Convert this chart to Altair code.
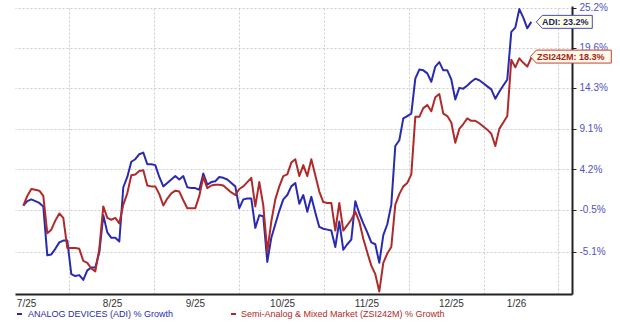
import altair as alt
import pandas as pd

series = ["ANALOG DEVICES (ADI) % Growth", "Semi-Analog & Mixed Market (ZSI242M) % Growth"]
short = ["ADI", "ZSI242M"]

adi = [0.0, 0.5, 0.7, 0.5, 0.3, -0.1, -5.5, -5.4, -4.8, -4.1,
       -3.9, -3.9, -7.5, -7.7, -7.6, -8.1, -7.1, -6.8, -6.8, -5.2,
       -1.1, -3.0, -3.6, -3.6, -4.0, 2.1, 3.3, 5.1, 5.4, 6.0,
       6.2, 4.8, 4.8, 4.7, 3.3, 2.2, 2.6, 3.0, 3.4, 3.0,
       3.4, 2.1, 2.0, 2.0, 1.8, 3.7, 2.4, 2.7, 2.8, 3.3,
       3.2, 3.0, 2.6, 2.2, -0.3, 0.7, 0.8, 0.8, -2.5, -1.1,
       -1.2, -6.2, -3.6, -2.1, -0.6, 0.7, 1.2, 2.2, 2.6, 0.2,
       1.2, -0.7, 1.0, -0.8, -2.4, -2.6, -2.7, -2.8, -4.6, -1.8,
       -4.9, -4.3, -3.8, 0.5, -0.9, -2.0, -3.0, -4.1, -4.3, -6.3,
       -3.3, -2.1, 0.1, 7.0, 7.7, 10.4, 10.7, 11.0, 15.5, 16.7,
       16.6, 16.2, 15.1, 17.1, 17.7, 16.6, 16.6, 15.4, 12.8, 14.3,
       14.2, 14.6, 15.1, 15.5, 15.3, 14.9, 14.5, 14.1, 12.9, 13.8,
       14.6, 15.4, 21.8, 22.4, 25.0, 23.8, 22.3, 23.2]

zsi = [0.0, 1.1, 1.9, 1.8, 1.7, 1.1, -3.1, -2.7, -1.7, -0.9,
       -1.4, -4.7, -4.7, -4.7, -4.8, -6.1, -6.3, -6.9, -7.2, -4.8,
       -0.1, -1.4, -1.6, -1.4, -2.0, 0.1, 1.4, 3.5, 3.6, 4.0,
       4.1, 2.3, 2.2, 2.2, 1.3, 0.0, 0.8, 1.4, 1.7, 1.6,
       0.6, -0.3, -0.3, -0.3, 1.1, 3.3, 2.0, 2.3, 2.4, 2.4,
       2.3, 1.9, 1.5, 1.2, 1.9, 2.2, 2.7, 3.2, -0.1, 2.7,
       0.0, -5.1, -1.8, 0.7, 2.2, 3.4, 3.6, 5.0, 5.4, 3.4,
       4.7, 3.4, 5.4, 3.5, 1.6, 0.4, 0.3, 0.3, -2.8, 0.3,
       -2.8, -2.2, -1.6, -0.7, -1.8, -3.7, -5.2, -6.6, -7.5, -9.3,
       -6.3, -5.3, -4.6, 0.1, 1.3, 2.2, 2.6, 3.6, 10.6, 10.6,
       11.7, 12.1, 11.3, 13.1, 13.5, 11.0, 10.7, 9.9, 7.4, 9.1,
       9.7, 10.4, 10.1, 10.1, 9.8, 9.4, 9.0, 8.5, 7.0, 9.1,
       9.9, 10.7, 18.0, 17.0, 18.2, 17.6, 17.1, 18.3]

month_labels = ["7/25", "8/25", "9/25", "10/25", "11/25", "12/25", "1/26"]
month_label_pos = [0.7, 22.2, 42.9, 64.7, 85.8, 106.9, 123.2]
month_bounds = [11.4, 32.7, 53.9, 75.2, 96.4, 115.2, 133.7]
y_ticks = [25.2, 19.6, 14.3, 9.1, 4.2, -0.5, -5.1]

line_colors = ["#2a2ab0", "#b02a2a"]
FONT = "Liberation Sans"

rows = []
for name, vals in zip(series, [adi, zsi]):
    for i, v in enumerate(vals):
        rows.append({"series": name, "day": i, "pct": v})
df = pd.DataFrame(rows)

xscale = alt.Scale(domain=[-2.075, 137.175], nice=False, zero=False)
yscale = alt.Scale(type="log", domain=[0.9044, 1.2544], nice=False, zero=False)

lab_arr = "[" + ",".join("'%s'" % s for s in month_labels) + "]"
pos_arr = "[" + ",".join(str(p) for p in month_label_pos) + "]"
x_label_expr = f"{lab_arr}[indexof({pos_arr}, datum.value)]"
y_label_expr = "(datum.value < 1 ? '-' : '') + format(abs(datum.value - 1) * 100, '.1f') + '%'"

lines = alt.Chart(df).transform_calculate(g="1 + datum.pct / 100").mark_line(
    strokeWidth=2, strokeJoin="round"
).encode(
    x=alt.X("day:Q", scale=xscale, axis=alt.Axis(
        orient="bottom", values=month_label_pos, labelExpr=x_label_expr,
        grid=False, ticks=False, domain=True, domainColor="#222222", domainWidth=2,
        labelColor="#333333", labelFontSize=10, labelFont=FONT, labelPadding=4,
        labelFlush=False, labelOverlap=False, title=None)),
    y=alt.Y("g:Q", scale=yscale, axis=alt.Axis(
        orient="right", values=[1 + t / 100 for t in y_ticks], labelExpr=y_label_expr,
        grid=True, gridColor="#cccccc", gridDash=[2, 2], gridWidth=1,
        ticks=True, tickSize=4, tickColor="#222222", domain=True, domainColor="#222222",
        domainWidth=2, labelColor="#5050c4", labelFontSize=10, labelFont=FONT,
        labelPadding=3, labelOverlap=False, title=None)),
    color=alt.Color("series:N", scale=alt.Scale(domain=series, range=line_colors), legend=None),
)

last = len(adi) - 1
tag_adi = pd.DataFrame({"day": [last], "pct": [adi[-1]], "label": [f"{short[0]}: {adi[-1]:.1f}%"]})
tag_zsi = pd.DataFrame({"day": [last], "pct": [zsi[-1]], "label": [f"{short[1]}: {zsi[-1]:.1f}%"]})

path_adi = "M-1,0L-0.786,-0.232L1,-0.232L1,0.232L-0.786,0.232Z"
path_zsi = "M-1,0L-0.852,-0.16L1,-0.16L1,0.16L-0.852,0.16Z"

def tag_layers(tdf, path, size, xoff, yoff, stroke, fill, tcolor, toff, grid_axis=False):
    if grid_axis:
        xax = alt.Axis(orient="top", values=month_bounds, grid=True, gridColor="#cccccc",
                       gridDash=[2, 2], gridWidth=1, labels=False, ticks=False,
                       domain=False, title=None)
    else:
        xax = None
    b = alt.Chart(tdf).transform_calculate(g="1 + datum.pct / 100")
    box = b.mark_point(shape=path, size=size, filled=True, fill=fill, stroke=stroke,
                       strokeWidth=1, opacity=1, fillOpacity=1, xOffset=xoff, yOffset=yoff).encode(
        x=alt.X("day:Q", scale=xscale, axis=xax),
        y=alt.Y("g:Q", scale=yscale, axis=None),
    )
    txt = b.mark_text(font=FONT, fontSize=9, fontWeight="bold", color=tcolor, align="center",
                      baseline="middle", dx=toff, dy=yoff + 0.5).encode(
        x=alt.X("day:Q", scale=xscale, axis=None),
        y=alt.Y("g:Q", scale=yscale, axis=None),
        text="label:N",
    )
    return [box, txt]

tags = tag_layers(tag_adi, path_adi, 3136, 33, 0, "#4848b8", "#ffffe2", "#22227a", 34, grid_axis=True) \
     + tag_layers(tag_zsi, path_zsi, 6561, 39.5, -1, "#c04040", "#fffbe6", "#a82020", 39.5)

leg_y = 308
legend_layers = []
leg_x = [(2, 13), (216, 226)]
for (dx0, tx0), name, col in zip(leg_x, series, line_colors):
    ld = pd.DataFrame({"t": [name]})
    dash = alt.Chart(ld).mark_rule(strokeWidth=2, color=col).encode(
        x=alt.value(dx0), x2=alt.value(dx0 + 5), y=alt.value(leg_y))
    t = alt.Chart(ld).mark_text(font=FONT, fontSize=9, color=col, align="left",
                                baseline="middle").encode(
        x=alt.value(tx0), y=alt.value(leg_y), text="t:N")
    legend_layers += [dash, t]

chart = alt.layer(lines, *tags, *legend_layers).resolve_axis(
    x="independent", y="independent"
).properties(
    width=557, height=288,
    padding={"left": 15, "top": 2, "right": 5, "bottom": 5},
    background="white",
).configure_view(stroke=None)

chart.save("out.html", embed_options={"renderer": "svg", "actions": False})
